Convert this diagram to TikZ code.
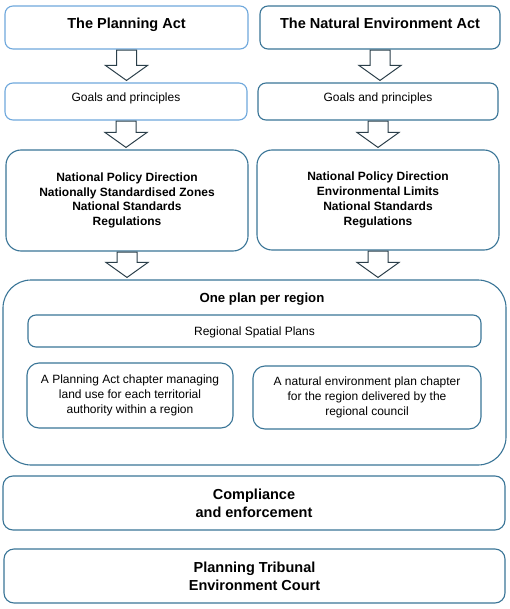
\documentclass[tikz,border=0pt]{standalone}
\usepackage{fontspec}
\setmainfont{Liberation Sans}
\usetikzlibrary{calc}
\definecolor{lightframe}{RGB}{111,168,220}
\definecolor{darkframe}{RGB}{58,117,151}
\definecolor{pfeilrand}{RGB}{43,63,74}

\begin{document}
\begin{tikzpicture}[x=1pt,y=-1pt,
    box/.style={draw=darkframe,line width=1.1pt,rounded corners=8pt,fill=white,
        align=center,inner sep=2pt},
    lightbox/.style={box,draw=lightframe},
    actbox/.style={font=\fontsize{14.5}{18}\selectfont\bfseries},
    plainbox/.style={font=\fontsize{12}{15}\selectfont},
    listbox/.style={box,rounded corners=15pt,font=\fontsize{12}{14.8}\selectfont\bfseries},
    hoch/.style={text depth=9pt},
    blockpfeil/.style={draw=pfeilrand,line width=1pt,fill=white,line join=miter}]
    \useasboundingbox (0,0) rectangle (509,609);

    % Acts
    \node (act1) [lightbox,actbox,hoch,minimum width=243pt,minimum height=43pt] at (126.5,27.5) {The Planning Act};
    \node (act2) [box,actbox,hoch,minimum width=240pt,minimum height=43pt] at (380,27.5) {The Natural Environment Act};

    % goals
    \node (goal1) [lightbox,plainbox,hoch,minimum width=242pt,minimum height=37pt] at (126,101.5) {Goals and principles};
    \node (goal2) [box,plainbox,hoch,minimum width=240pt,minimum height=37pt] at (378,101.5) {Goals and principles};

    % national direction
    \node (nat1) [listbox,minimum width=242pt,minimum height=101pt] at (127,200.5)
        {National Policy Direction\\Nationally Standardised Zones\\National Standards\\Regulations};
    \node (nat2) [listbox,minimum width=242pt,minimum height=100pt] at (378,200)
        {National Policy Direction\\Environmental Limits\\National Standards\\Regulations};

    % one plan per region
    \node (region) [box,rounded corners=28pt,minimum width=503pt,minimum height=185pt] at (254.5,372.5) {};
    \node (rtitle) [font=\fontsize{13.2}{16}\selectfont\bfseries] at (262,299) {One plan per region};
    \node (spatial) [box,plainbox,minimum width=453pt,minimum height=32pt,text height=11pt] at (254.5,331) {Regional Spatial Plans};
    \node (chap1) [box,plainbox,rounded corners=12pt,minimum width=206pt,minimum height=65pt] at (130,395.5)
        {A Planning Act chapter managing\\land use for each territorial\\authority within a region};
    \node (chap2) [box,plainbox,rounded corners=12pt,minimum width=228pt,minimum height=63pt] at (367,397.5)
        {A natural environment plan chapter\\for the region delivered by the\\regional council};

    % bottom
    \node (comply) [box,actbox,rounded corners=10pt,minimum width=502pt,minimum height=54pt] at (254,503)
        {Compliance\\and enforcement};
    \node (court) [box,actbox,rounded corners=10pt,minimum width=501pt,minimum height=54pt] at (254.5,576)
        {Planning Tribunal\\Environment Court};

    % block arrows
    \foreach \von/\nach in {act1/goal1,act2/goal2,goal1/nat1,goal2/nat2,nat1/region,nat2/region}
        \draw[blockpfeil] let \p1=(\von.south), \p2=(\von.south |- \nach.north) in
            (\x1-10pt,\y1-0.5pt) -- (\x1-10pt,\y2+17pt) -- (\x1-21pt,\y2+17pt) -- (\x1,\y2+2pt)
            -- (\x1+21pt,\y2+17pt) -- (\x1+10pt,\y2+17pt) -- (\x1+10pt,\y1-0.5pt) -- cycle;

\end{tikzpicture}
\end{document}
